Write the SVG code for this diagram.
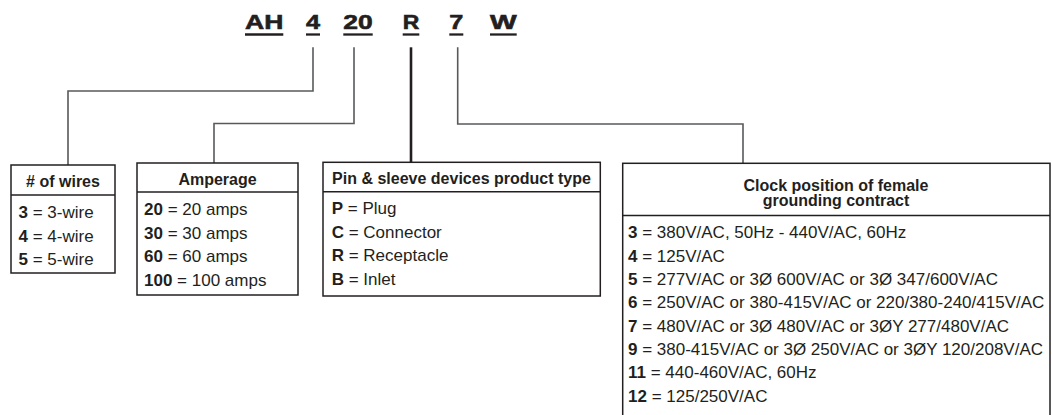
<svg xmlns="http://www.w3.org/2000/svg" width="1052" height="415" viewBox="0 0 1052 415">
<style>
  text { font-family: "Liberation Sans", Arial, sans-serif; fill: #231f20; }
  .code { font-size: 20px; font-weight: bold; stroke: #231f20; stroke-width: 0.6; }
  .hdr { font-size: 16px; font-weight: bold; text-anchor: middle; }
  .row { font-size: 17px; }
  .b { font-weight: bold; }
  .box { fill: #ffffff; stroke: #231f20; stroke-width: 1.5; }
  .div { stroke: #231f20; stroke-width: 1.5; fill: none; }
  .conn { fill: none; stroke: #58595b; stroke-width: 1.6; }
  .thick { fill: none; stroke: #231f20; stroke-width: 2.6; }
  .ul { stroke: #231f20; stroke-width: 2.3; }
</style>
<g id="code">
  <text class="code" x="245" y="29.3" textLength="38.3" lengthAdjust="spacingAndGlyphs">AH</text>
  <text class="code" x="306" y="29.3" textLength="14" lengthAdjust="spacingAndGlyphs">4</text>
  <text class="code" x="343.3" y="29.3" textLength="29.4" lengthAdjust="spacingAndGlyphs">20</text>
  <text class="code" x="402.7" y="29.3" textLength="16.6" lengthAdjust="spacingAndGlyphs">R</text>
  <text class="code" x="449.3" y="29.3" textLength="14" lengthAdjust="spacingAndGlyphs">7</text>
  <text class="code" x="490" y="29.3" textLength="26.7" lengthAdjust="spacingAndGlyphs">W</text>
  <line class="ul" x1="245" y1="34.5" x2="283.3" y2="34.5"/>
  <line class="ul" x1="306" y1="34.5" x2="320" y2="34.5"/>
  <line class="ul" x1="343.3" y1="34.5" x2="372.7" y2="34.5"/>
  <line class="ul" x1="402.7" y1="34.5" x2="419.3" y2="34.5"/>
  <line class="ul" x1="449.3" y1="34.5" x2="463.3" y2="34.5"/>
  <line class="ul" x1="490" y1="34.5" x2="516.7" y2="34.5"/>
</g>
<g id="connectors">
  <polyline class="conn" points="313,47.3 313,91 68,91 68,165"/>
  <polyline class="conn" points="354,47.3 354,123.5 214,123.5 214,163"/>
  <polyline class="thick" points="411,47.3 411,162.3"/>
  <polyline class="conn" points="457.7,47.3 457.7,124 743,124 743,163.3"/>
</g>
<g id="wires">
  <rect class="box" x="11" y="165" width="104" height="108"/>
  <line class="div" x1="11" y1="195" x2="115" y2="195"/>
  <text class="hdr" x="63" y="186.7"># of wires</text>
  <text class="row" x="18.5" y="218.3"><tspan class="b">3</tspan> = 3-wire</text>
  <text class="row" x="18.5" y="241.7"><tspan class="b">4</tspan> = 4-wire</text>
  <text class="row" x="18.5" y="265"><tspan class="b">5</tspan> = 5-wire</text>
</g>
<g id="amperage">
  <rect class="box" x="137" y="163" width="161" height="132"/>
  <line class="div" x1="137" y1="192" x2="298" y2="192"/>
  <text class="hdr" x="217.5" y="185">Amperage</text>
  <text class="row" x="144" y="215"><tspan class="b">20</tspan> = 20 amps</text>
  <text class="row" x="144" y="238.5"><tspan class="b">30</tspan> = 30 amps</text>
  <text class="row" x="144" y="262"><tspan class="b">60</tspan> = 60 amps</text>
  <text class="row" x="144" y="286"><tspan class="b">100</tspan> = 100 amps</text>
</g>
<g id="product-type">
  <rect class="box" x="323" y="162.3" width="277.3" height="133.7"/>
  <line class="div" x1="323" y1="191.7" x2="600.3" y2="191.7"/>
  <text class="hdr" x="461.5" y="184">Pin &amp; sleeve devices product type</text>
  <text class="row" x="331.7" y="214"><tspan class="b">P</tspan> = Plug</text>
  <text class="row" x="331.7" y="237.5"><tspan class="b">C</tspan> = Connector</text>
  <text class="row" x="331.7" y="261.3"><tspan class="b">R</tspan> = Receptacle</text>
  <text class="row" x="331.7" y="285"><tspan class="b">B</tspan> = Inlet</text>
</g>
<g id="clock-position">
  <rect class="box" x="622.7" y="163.3" width="427.3" height="260"/>
  <line class="div" x1="622.7" y1="215.5" x2="1050" y2="215.5"/>
  <text class="hdr" x="836" y="190.7">Clock position of female</text>
  <text class="hdr" x="836" y="206.3">grounding contract</text>
  <text class="row" x="628" y="238.3"><tspan class="b">3</tspan> = 380V/AC, 50Hz - 440V/AC, 60Hz</text>
  <text class="row" x="628" y="261.7"><tspan class="b">4</tspan> = 125V/AC</text>
  <text class="row" x="628" y="285"><tspan class="b">5</tspan> = 277V/AC or 3Ø 600V/AC or 3Ø 347/600V/AC</text>
  <text class="row" x="628" y="308.3"><tspan class="b">6</tspan> = 250V/AC or 380-415V/AC or 220/380-240/415V/AC</text>
  <text class="row" x="628" y="331.7"><tspan class="b">7</tspan> = 480V/AC or 3Ø 480V/AC or 3ØY 277/480V/AC</text>
  <text class="row" x="628" y="355"><tspan class="b">9</tspan> = 380-415V/AC or 3Ø 250V/AC or 3ØY 120/208V/AC</text>
  <text class="row" x="628" y="378.3"><tspan class="b">11</tspan> = 440-460V/AC, 60Hz</text>
  <text class="row" x="628" y="401.7"><tspan class="b">12</tspan> = 125/250V/AC</text>
</g>
</svg>
